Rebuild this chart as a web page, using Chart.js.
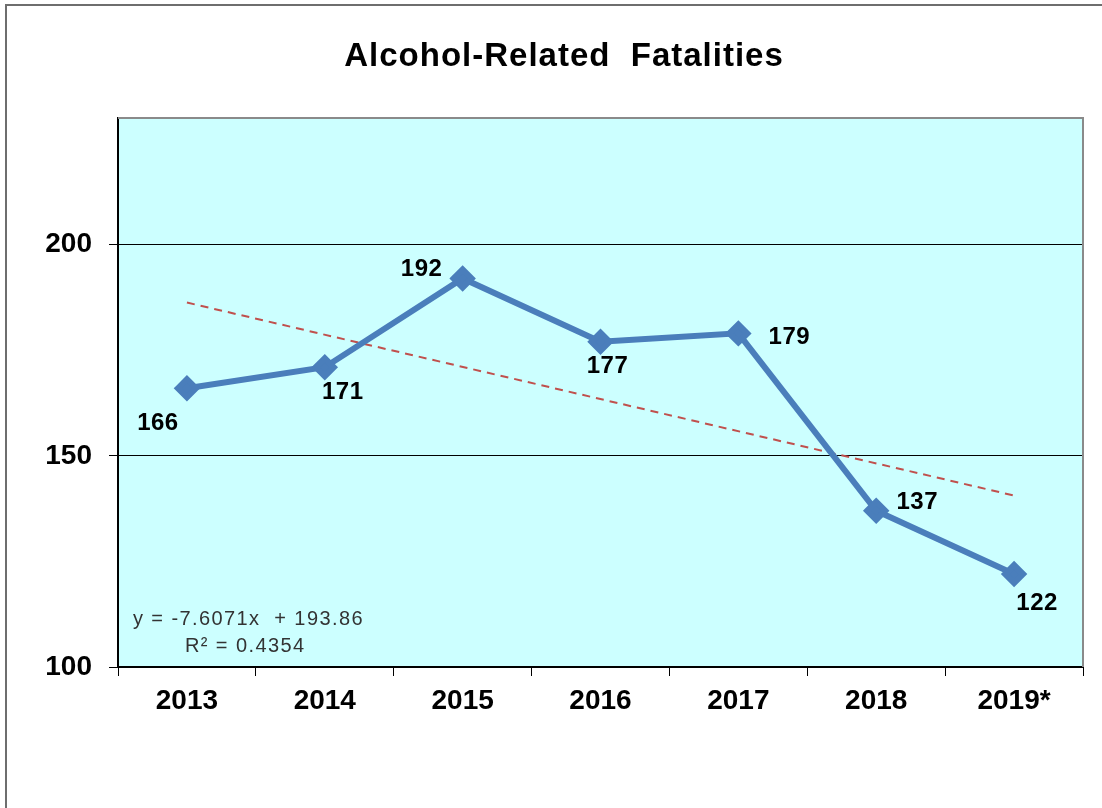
<!DOCTYPE html>
<html>
<head>
<meta charset="utf-8">
<title>Alcohol-Related Fatalities</title>
<script src="https://cdn.jsdelivr.net/npm/chart.js@4/dist/chart.umd.min.js"></script>
<style>
    html, body { margin: 0; padding: 0; background: #fff; }
    #wrap { position: relative; width: 1102px; height: 808px; }
</style>
</head>
<body>
<div id="wrap"><canvas id="fatalChart" width="1102" height="808"></canvas></div>
<script>
// Data
const years = ['2013', '2014', '2015', '2016', '2017', '2018', '2019*'];
const fatalities = [166, 171, 192, 177, 179, 137, 122];
// linear trend endpoints (y = -7.6071x + 193.86)
const trendValues = [186.3, null, null, null, null, null, 140.6];
const yTicks = [100, 150, 200];
const equationText = ['y = -7.6071x  + 193.86', 'R\u00B2 = 0.4354'];

// where each value label sits relative to its point
const labelOffsets = [[-29, 35], [18, 25], [-41, -9], [7, 25], [51, 4], [41, -8], [23, 29]];

const FONT = '"Liberation Sans", Arial, sans-serif';

const decorPlugin = {
    id: 'decor',
    beforeDraw(chart) {
        const { ctx, chartArea: a } = chart;
        ctx.save();
        // outer frame (left and top edges only)
        ctx.strokeStyle = '#6e6e6e';
        ctx.lineWidth = 2;
        ctx.beginPath();
        ctx.moveTo(6, 808);
        ctx.lineTo(6, 5);
        ctx.lineTo(1102, 5);
        ctx.stroke();
        // plot background
        ctx.fillStyle = '#ccffff';
        ctx.fillRect(a.left, a.top, a.right - a.left, a.bottom - a.top);
        ctx.restore();
    },
    afterDraw(chart) {
        const { ctx, chartArea: a } = chart;
        ctx.save();
        // plot border top and right
        ctx.strokeStyle = '#8a8a8a';
        ctx.lineWidth = 2;
        ctx.beginPath();
        ctx.moveTo(a.left, a.top);
        ctx.lineTo(a.right, a.top);
        ctx.lineTo(a.right, a.bottom);
        ctx.stroke();

        // title
        ctx.fillStyle = '#000';
        ctx.font = 'bold 33px ' + FONT;
        ctx.letterSpacing = '1px';
        ctx.textAlign = 'center';
        ctx.textBaseline = 'middle';
        ctx.fillText('Alcohol-Related  Fatalities', 564, 57);

        // value labels
        const meta = chart.getDatasetMeta(0);
        ctx.font = 'bold 24px ' + FONT;
        ctx.letterSpacing = '0.5px';
        meta.data.forEach((pt, i) => {
            const off = labelOffsets[i];
            ctx.fillText(String(fatalities[i]), pt.x + off[0], pt.y + off[1]);
        });

        // trendline equation
        ctx.fillStyle = '#333';
        ctx.font = '20px ' + FONT;
        ctx.letterSpacing = '1.4px';
        ctx.textAlign = 'left';
        ctx.fillText(equationText[0], 133, 619);
        ctx.fillText(equationText[1], 185, 646);
        ctx.restore();
    }
};

const ctx = document.getElementById('fatalChart').getContext('2d');
new Chart(ctx, {
    type: 'line',
    data: {
        labels: years,
        datasets: [{
            label: 'Fatalities',
            data: fatalities,
            borderColor: '#4a7ebb',
            backgroundColor: '#4a7ebb',
            borderWidth: 6,
            pointStyle: 'rectRot',
            pointRadius: 9,
            pointHoverRadius: 9,
            tension: 0,
            order: 1
        }, {
            label: 'Trend',
            data: trendValues,
            spanGaps: true,
            borderColor: '#c0504d',
            borderWidth: 2,
            borderDash: [8, 6],
            pointRadius: 0,
            tension: 0,
            order: 2
        }]
    },
    options: {
        responsive: false,
        animation: false,
        layout: { padding: { left: 0, top: 118, right: 19, bottom: 0 } },
        plugins: {
            legend: { display: false },
            tooltip: { enabled: false }
        },
        scales: {
            x: {
                offset: true,
                grid: {
                    offset: true,
                    drawOnChartArea: false,
                    color: '#000',
                    tickLength: 9
                },
                border: { color: '#000', width: 2 },
                ticks: {
                    color: '#000',
                    font: { family: FONT, size: 28, weight: 'bold' },
                    padding: 8,
                    maxRotation: 0
                },
                afterFit(scale) { scale.height = 141; }
            },
            y: {
                min: 100,
                max: 230,
                afterBuildTicks(scale) {
                    scale.ticks = yTicks.map(v => ({ value: v }));
                },
                grid: {
                    color: '#000',
                    lineWidth: 1,
                    tickLength: 9
                },
                border: { color: '#000', width: 2 },
                ticks: {
                    color: '#000',
                    font: { family: FONT, size: 28, weight: 'bold' },
                    padding: 17
                },
                afterFit(scale) { scale.width = 118; }
            }
        }
    },
    plugins: [decorPlugin]
});
</script>
</body>
</html>
